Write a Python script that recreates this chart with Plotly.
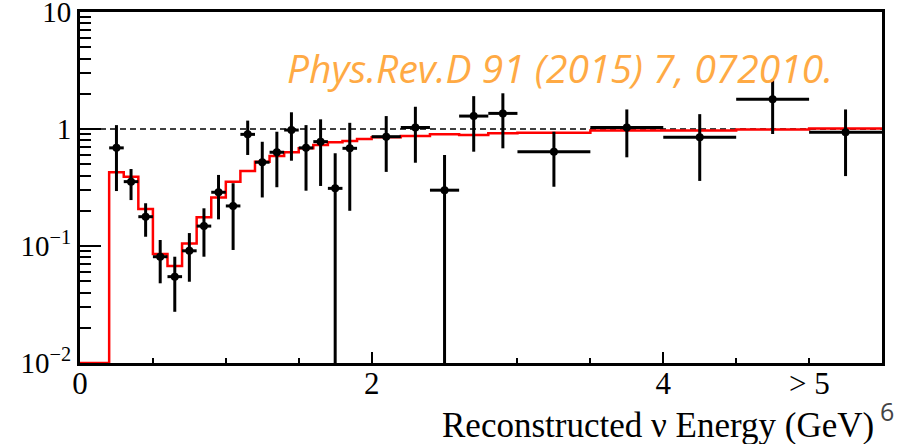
import plotly.graph_objects as go
import numpy as np

# Red histogram (prediction), bin edges and values
hist_edges = [0.0, 0.2, 0.3, 0.4, 0.5, 0.6, 0.7, 0.8, 0.9, 1.0, 1.1, 1.2, 1.3, 1.4, 1.5,
              1.6, 1.7, 1.8, 1.9, 2.0, 2.2, 2.4, 2.6, 2.8, 3.0, 3.5, 4.0, 4.5, 5.0, 5.5]
hist_vals = [0.01, 0.426, 0.391, 0.207, 0.0855, 0.0675, 0.105, 0.176, 0.26, 0.355, 0.438,
             0.526, 0.587, 0.633, 0.684, 0.73, 0.77, 0.79, 0.82,
             0.85, 0.87, 0.90, 0.89, 0.92,
             0.93, 0.97, 0.97, 0.99, 1.01]

# Data points
data_x = [0.25, 0.35, 0.45, 0.55, 0.65, 0.75, 0.85, 0.95, 1.05, 1.15, 1.25, 1.35, 1.45,
          1.55, 1.65, 1.75, 1.85, 2.1, 2.3, 2.5, 2.7, 2.9, 3.25, 3.75, 4.25, 4.75, 5.25]
data_xerr = [0.05] * 17 + [0.1] * 5 + [0.25] * 5
data_y = [0.69, 0.355, 0.178, 0.081, 0.0547, 0.091, 0.148, 0.288, 0.22, 0.90, 0.52, 0.633,
          0.98, 0.69, 0.78, 0.311, 0.684, 0.86, 1.03, 0.30, 1.29, 1.36, 0.64, 1.03, 0.85,
          1.80, 0.94]
data_hi = [1.08, 0.455, 0.232, 0.1125, 0.081, 0.129, 0.21, 0.405, 0.344, 1.18, 0.778, 0.948,
           1.39, 1.08, 1.21, 0.62, 1.13, 1.29, 1.55, 0.60, 1.91, 2.02, 0.948, 1.47, 1.34,
           2.67, 1.47]
data_lo = [0.295, 0.247, 0.120, 0.048, 0.0274, 0.0495, 0.081, 0.169, 0.0925, 0.60, 0.26,
           0.318, 0.536, 0.297, 0.326, 0.0, 0.20, 0.43, 0.515, 0.0, 0.64, 0.684, 0.321,
           0.573, 0.36, 0.906, 0.396]

x_tick_vals = [0, 2, 4]
x_tick_text = ["0", "2", "4"]
x_minor_vals = [0.5, 1.0, 1.5, 2.5, 3.0, 3.5, 4.5, 5.0]
y_tick_vals = [0.01, 0.1, 1, 10]
y_tick_text = ["10<sup>\u22122</sup>", "10<sup>\u22121</sup>", "1", "10"]

SERIF = "Liberation Serif, Times New Roman, serif"

fig = go.Figure()

# reference line at 1
fig.add_trace(go.Scatter(x=[hist_edges[0], hist_edges[-1]], y=[1, 1], mode="lines",
                         line=dict(color="black", width=1.5, dash="6px,4px"),
                         hoverinfo="skip", showlegend=False))

# red step histogram
step_y = hist_vals + [hist_vals[-1]]
fig.add_trace(go.Scatter(x=hist_edges, y=step_y, mode="lines", line_shape="hv",
                         line=dict(color="#ff0000", width=2.5), showlegend=False))

# data points
y_arr = np.array(data_y)
lo_arr = np.maximum(np.array(data_lo), 1e-5)
fig.add_trace(go.Scatter(
    x=data_x, y=data_y, mode="markers",
    marker=dict(color="black", size=8),
    error_y=dict(type="data", symmetric=False, array=list(np.array(data_hi) - y_arr),
                 arrayminus=list(y_arr - lo_arr), thickness=3, width=0, color="black"),
    error_x=dict(type="data", array=data_xerr, thickness=3, width=0, color="black"),
    showlegend=False))

minor_y = [m * 10.0 ** d for d in (-2, -1, 0) for m in range(2, 10)]

fig.update_xaxes(range=[0, 5.5], showgrid=False, zeroline=False, automargin=False,
                 showline=True, linewidth=3, linecolor="black", mirror=True,
                 ticks="inside", ticklen=11, tickwidth=1.5, tickcolor="black",
                 tickvals=x_tick_vals, ticktext=x_tick_text, ticklabelstandoff=-9,
                 ticklabeloverflow="allow",
                 tickfont=dict(family=SERIF, size=31, color="black"),
                 minor=dict(ticks="inside", ticklen=5, tickwidth=1.5, tickcolor="black",
                            tickvals=x_minor_vals, showgrid=False))
fig.update_yaxes(type="log", range=[-2, 1.0002], showgrid=False, zeroline=False,
                 automargin=False,
                 showline=True, linewidth=3, linecolor="black", mirror=True,
                 ticks="inside", ticklen=21, tickwidth=1.5, tickcolor="black",
                 tickvals=y_tick_vals, ticktext=y_tick_text, ticklabeloverflow="allow",
                 tickfont=dict(family=SERIF, size=29, color="black"),
                 minor=dict(ticks="inside", ticklen=11, tickwidth=1.5, tickcolor="black",
                            tickvals=minor_y, showgrid=False))

fig.add_annotation(text="> 5", x=5, xref="x", y=-0.057, yref="paper",
                   xanchor="center", yanchor="middle", showarrow=False,
                   font=dict(family=SERIF, size=31, color="black"))
fig.add_annotation(text="Reconstructed \u03bd Energy (GeV)", x=0.992, xref="paper",
                   y=-0.177, yref="paper", xanchor="right", yanchor="middle",
                   showarrow=False, font=dict(family=SERIF, size=35, color="black"))
fig.add_annotation(text="6", x=1.006, xref="paper", y=-0.138, yref="paper",
                   xanchor="center", yanchor="middle", showarrow=False,
                   font=dict(family="Open Sans, sans-serif", size=25, color="#444444"))
fig.add_annotation(text="<i>Phys.Rev.D 91 (2015) 7, 072010.</i>", x=0.599, xref="paper",
                   y=0.843, yref="paper", xanchor="center", yanchor="middle",
                   showarrow=False, font=dict(family="Open Sans, sans-serif", size=39,
                                              color="#ffaa44"))

fig.update_layout(width=914, height=444, margin=dict(l=80, r=32, t=12, b=81),
                  plot_bgcolor="white", paper_bgcolor="white", showlegend=False)

fig.write_html("out.html")
